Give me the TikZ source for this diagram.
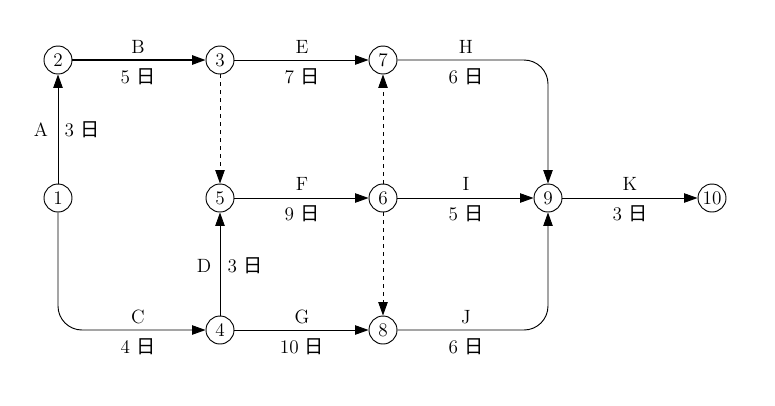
\documentclass[tikz,border=0pt]{standalone}
\usepackage{fontspec}
\newfontfamily\cjk{Noto Sans CJK SC}
\usetikzlibrary{arrows.meta}
\newcommand{\ri}{{\cjk 日}}
\begin{document}
\begin{tikzpicture}[x=0.75pt,y=-0.75pt,
  ev/.style={circle,draw,line width=0.7pt,minimum size=21pt,inner sep=0pt,font=\Large},
  act/.style={line width=0.7pt,-{Triangle[length=10pt,width=7pt]}},
  dum/.style={act,dashed},
  lab/.style={font=\Large}]
\useasboundingbox (0,0) rectangle (775,405);
\node[ev] (n1) at (58,198) {1};
\node[ev] (n2) at (58,60) {2};
\node[ev] (n3) at (220,60) {3};
\node[ev] (n7) at (383,60) {7};
\node[ev] (n5) at (220,198) {5};
\node[ev] (n6) at (383,198) {6};
\node[ev] (n9) at (548,198) {9};
\node[ev] (n10) at (712,198) {10};
\node[ev] (n4) at (220,330) {4};
\node[ev] (n8) at (383,330) {8};
\draw[act] (n1) -- (n2);
\draw[act,line width=1.1pt] (n2) -- (n3);
\draw[act] (n3) -- (n7);
\draw[act,rounded corners=18pt] (n7) -| (n9);
\draw[dum] (n3) -- (n5);
\draw[act] (n5) -- (n6);
\draw[dum] (n6) -- (n7);
\draw[dum] (n6) -- (n8);
\draw[act] (n6) -- (n9);
\draw[act] (n9) -- (n10);
\draw[act,rounded corners=18pt] (n1) |- (n4);
\draw[act] (n4) -- (n5);
\draw[act] (n4) -- (n8);
\draw[act,rounded corners=18pt] (n8) -| (n9);
\node[lab] (lA) at (41,130) {A}; \node[lab] (dA) at (82,130) {3 \ri};
\node[lab] (lB) at (138,47) {B}; \node[lab] (dB) at (138,77) {5 \ri};
\node[lab] (lE) at (302,47) {E}; \node[lab] (dE) at (302,77) {7 \ri};
\node[lab] (lH) at (466,47) {H}; \node[lab] (dH) at (466,77) {6 \ri};
\node[lab] (lF) at (302,184) {F}; \node[lab] (dF) at (302,214) {9 \ri};
\node[lab] (lI) at (466,184) {I}; \node[lab] (dI) at (466,214) {5 \ri};
\node[lab] (lK) at (630,184) {K}; \node[lab] (dK) at (630,214) {3 \ri};
\node[lab] (lD) at (204,266) {D}; \node[lab] (dD) at (245,266) {3 \ri};
\node[lab] (lC) at (138,317) {C}; \node[lab] (dC) at (138,347) {4 \ri};
\node[lab] (lG) at (302,317) {G}; \node[lab] (dG) at (302,347) {10 \ri};
\node[lab] (lJ) at (466,317) {J}; \node[lab] (dJ) at (466,347) {6 \ri};
\end{tikzpicture}
\end{document}
